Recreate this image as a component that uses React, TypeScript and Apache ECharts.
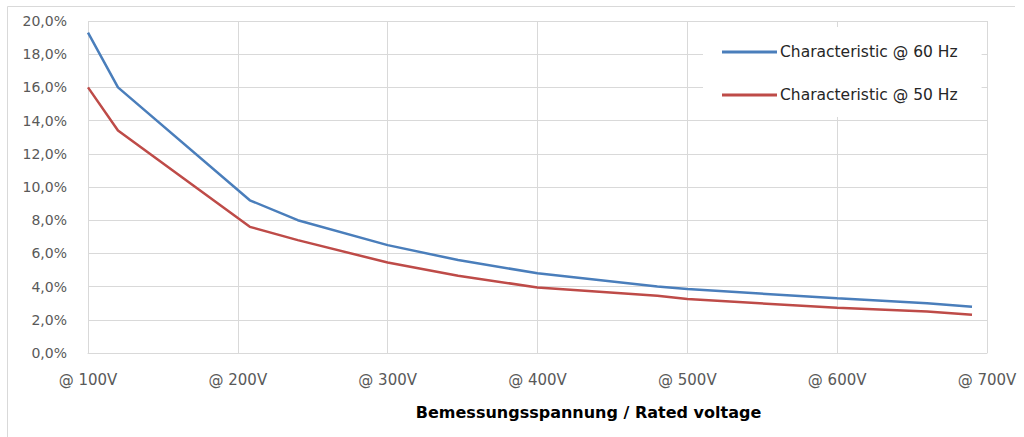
import React, { useEffect, useRef } from "react";
import * as echarts from "echarts";

const voltages = [100, 120, 208, 240, 300, 347, 400, 480, 500, 600, 660, 690];
const values60Hz = [19.3, 16.0, 9.2, 8.0, 6.5, 5.6, 4.8, 4.0, 3.85, 3.3, 3.0, 2.78];
const values50Hz = [16.0, 13.4, 7.6, 6.8, 5.45, 4.65, 3.95, 3.45, 3.25, 2.72, 2.5, 2.3];
const seriesNames = ["Characteristic @ 60 Hz", "Characteristic @ 50 Hz"];
const axisTitle = "Bemessungsspannung / Rated voltage";

const FONT = "DejaVu Sans";

export default function App() {
  const ref = useRef<HTMLDivElement>(null);
  useEffect(() => {
    if (!ref.current) return;
    const chart = echarts.init(ref.current, undefined, { renderer: "svg" });
    const toPairs = (vals: number[]) => voltages.map((v, i) => [v, vals[i]]);
    chart.setOption({
      animation: false,
      backgroundColor: "#ffffff",
      textStyle: { fontFamily: FONT },
      graphic: [
        {
          type: "polyline",
          shape: { points: [[7.5, 440], [7.5, 6.5], [1015, 6.5]] },
          style: { fill: "none", stroke: "#d9d9d9", lineWidth: 1 },
          silent: true,
        },
      ],
      grid: { left: 88, right: 37, top: 21, bottom: 84 },
      legend: {
        orient: "vertical",
        left: 703,
        top: 27,
        backgroundColor: "#ffffff",
        padding: [16, 24, 13, 19],
        itemGap: 25,
        itemWidth: 55,
        itemHeight: 3,
        icon: "rect",
        textStyle: {
          fontFamily: FONT,
          fontSize: 15.5,
          lineHeight: 18,
          color: "#262626",
          padding: [0, 0, 0, -2],
        },
        data: seriesNames,
      },
      xAxis: {
        type: "value",
        min: 100,
        max: 700,
        interval: 100,
        axisLine: { show: true, lineStyle: { color: "#d9d9d9", width: 1 } },
        axisTick: { show: false },
        splitLine: { show: true, lineStyle: { color: "#d9d9d9", width: 1 } },
        axisLabel: {
          formatter: (v: number) => "@ " + v + "V",
          color: "#595959",
          fontFamily: FONT,
          fontSize: 15,
          margin: 19,
        },
        name: axisTitle,
        nameLocation: "middle",
        nameGap: 51,
        nameTextStyle: {
          fontFamily: FONT,
          fontSize: 16,
          fontWeight: "bold",
          color: "#000000",
          padding: [0, 0, 0, 102],
        },
      },
      yAxis: {
        type: "value",
        min: 0,
        max: 20,
        interval: 2,
        axisLine: { show: false },
        axisTick: { show: false },
        splitLine: { show: true, lineStyle: { color: "#d9d9d9", width: 1 } },
        axisLabel: {
          formatter: (v: number) => v.toFixed(1).replace(".", ",") + "%",
          color: "#595959",
          fontFamily: FONT,
          fontSize: 14,
          margin: 21,
        },
      },
      series: [
        {
          name: seriesNames[0],
          type: "line",
          data: toPairs(values60Hz),
          showSymbol: false,
          symbol: "none",
          lineStyle: { color: "#4a7ebb", width: 2.5 },
          itemStyle: { color: "#4a7ebb" },
        },
        {
          name: seriesNames[1],
          type: "line",
          data: toPairs(values50Hz),
          showSymbol: false,
          symbol: "none",
          lineStyle: { color: "#be4b48", width: 2.5 },
          itemStyle: { color: "#be4b48" },
        },
      ],
    });
    return () => chart.dispose();
  }, []);
  return (
    <div
      ref={ref}
      style={{ position: "fixed", left: 0, top: 0, width: 1024, height: 437 }}
    />
  );
}
